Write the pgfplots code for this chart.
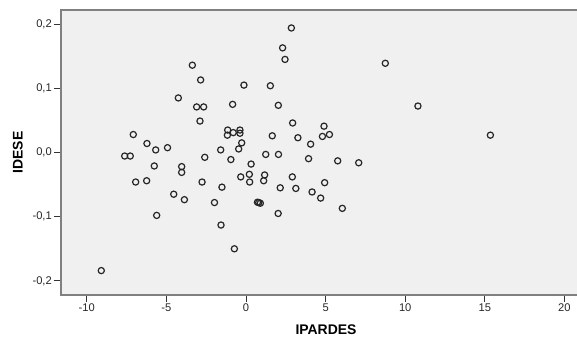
\documentclass[border=0pt]{standalone}
\usepackage{pgfplots}
\pgfplotsset{compat=1.18}
\usepackage{fontspec}
\setmainfont{Liberation Sans}
\definecolor{bggray}{RGB}{240,240,240}
\definecolor{framegray}{RGB}{128,128,128}
\begin{document}
\begin{tikzpicture}
\path[use as bounding box] (0,0) rectangle (577bp,337bp);
\begin{axis}[
  at={(61bp,42bp)}, anchor=south west,
  scale only axis,
  width=530bp, height=285bp,
  xmin=-11.62, xmax=21.67,
  ymin=-0.222, ymax=0.222,
  axis background/.style={fill=bggray},
  axis line style={draw=framegray, line width=1.1bp},
  xtick={-10,-5,0,5,10,15,20},
  xticklabels={-10,-5,0,5,10,15,20},
  ytick={-0.2,-0.1,0,0.1,0.2},
  yticklabels={{-0,2},{-0,1},{0,0},{0,1},{0,2}},
  xtick pos=bottom, ytick pos=left,
  tick align=outside,
  major tick length=7bp,
  tick style={draw=black!80, line width=0.9bp},
  ticklabel style={font=\fontsize{11.2}{13}\selectfont, text=black!85},
  xticklabel style={inner sep=2bp},
  yticklabel style={inner sep=2bp},
  xlabel={\textbf{IPARDES}},
  ylabel={\textbf{IDESE}},
  xlabel style={font=\fontsize{14}{16}\selectfont, at={(axis description cs:0.5,-0.137)}, anchor=base},
  ylabel style={font=\fontsize{14}{16}\selectfont, at={(axis description cs:-0.0815,0.5)}, anchor=center},
]
\addplot[only marks, mark=o, mark size=3.1bp, mark options={line width=1.2bp, draw=black!85}]
coordinates {
(2.85,0.194) (2.30,0.163) (2.45,0.145) (-3.37,0.136) (-2.85,0.113)
(-0.13,0.105) (1.53,0.104) (8.75,0.139) (-4.25,0.085) (-3.10,0.071)
(-2.66,0.071) (-0.84,0.075) (2.03,0.0735) (10.80,0.0724) (-2.89,0.049)
(2.93,0.046) (4.90,0.041) (-7.08,0.028) (-1.15,0.035) (-1.17,0.027)
(-0.80,0.031) (-0.38,0.035) (-0.38,0.030) (-0.27,0.015) (1.65,0.026)
(3.26,0.023) (4.80,0.025) (5.24,0.028) (4.06,0.013) (15.35,0.027)
(-6.22,0.014) (-5.67,0.004) (-4.93,0.0075) (-1.59,0.004) (-0.46,0.0055)
(-7.62,-0.0055) (-7.27,-0.0055) (-2.59,-0.0075) (1.24,-0.003) (2.04,-0.003)
(-0.95,-0.011) (0.32,-0.018) (3.93,-0.0096) (5.76,-0.013) (7.08,-0.016)
(-5.76,-0.021) (-4.04,-0.022) (-4.04,-0.031) (-6.93,-0.046) (-6.24,-0.044)
(-2.76,-0.046) (-0.33,-0.038) (0.21,-0.034) (0.23,-0.046) (1.17,-0.035)
(1.11,-0.044) (2.91,-0.038) (2.15,-0.055) (3.13,-0.056) (-1.51,-0.054)
(4.15,-0.0615) (4.94,-0.047) (4.69,-0.071) (6.05,-0.087) (-4.54,-0.065)
(-3.87,-0.0735) (-1.98,-0.078) (0.72,-0.0775) (0.80,-0.078) (0.90,-0.079)
(2.02,-0.095) (-5.61,-0.098) (-1.57,-0.113) (-0.73,-0.150) (-9.09,-0.184)
};
\end{axis}
\end{tikzpicture}
\end{document}
